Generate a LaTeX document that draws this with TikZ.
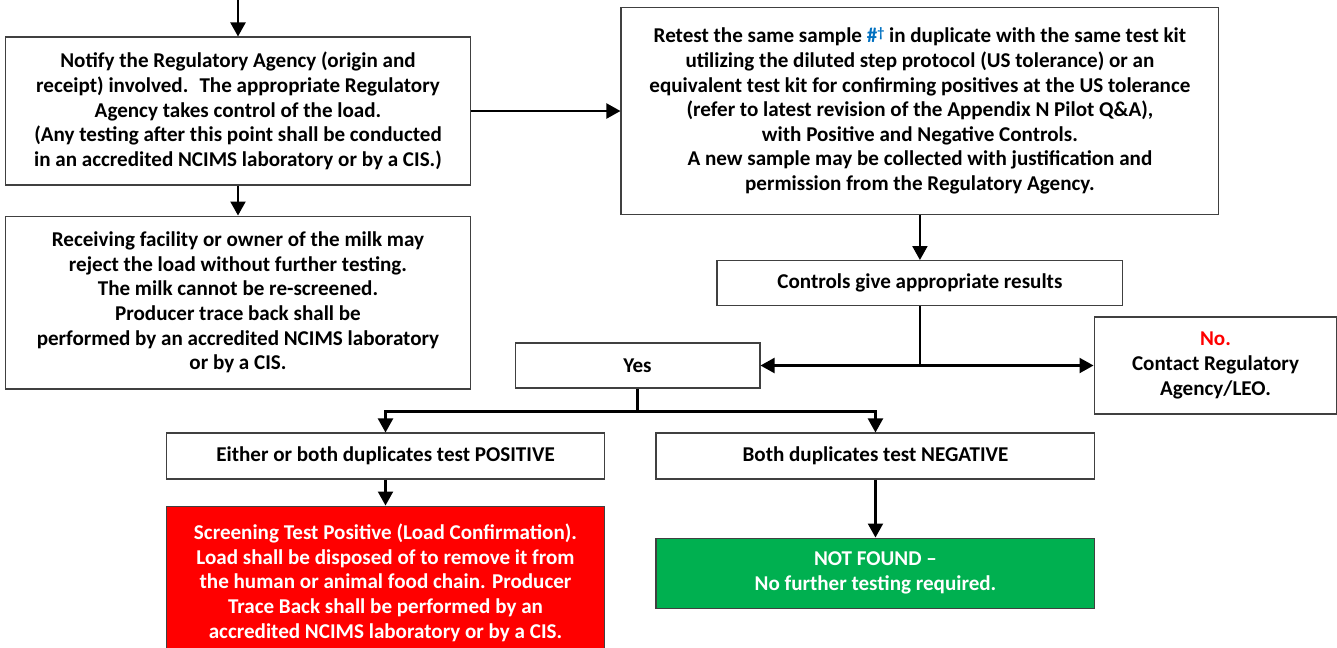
\documentclass[tikz,border=0pt]{standalone}
\usepackage{fontspec}
\setmainfont{Carlito}
\usetikzlibrary{positioning,arrows.meta}
\definecolor{boxgray}{RGB}{64,64,64}
\definecolor{hashblue}{RGB}{0,112,192}
\definecolor{stopred}{RGB}{255,0,0}
\definecolor{okgreen}{RGB}{0,176,80}

\begin{document}
\begin{tikzpicture}[x=0.02cm,y=-0.02cm,
    box/.style={draw=boxgray,line width=0.6pt,align=center,inner sep=0pt,
      font=\fontsize{12}{14}\selectfont\bfseries},
    flow/.style={line width=1.2pt,-{Triangle[length=0.28cm,width=0.3cm]}},
    link/.style={line width=1.2pt}]
  \useasboundingbox (0,0) rectangle (1337,647);
  %% left column
  \coordinate (start) at (238,0);
  \node[box,minimum width=9.32cm,minimum height=2.96cm] (notify) at (238,111)
    {Notify the Regulatory Agency (origin and\\
     receipt) involved.~ The appropriate Regulatory\\
     Agency takes control of the load.\\
     (Any testing after this point shall be conducted\\
     in an accredited NCIMS laboratory or by a CIS.)};
  \node[box,minimum width=9.32cm,minimum height=3.46cm,below=0.6cm of notify] (recv)
    {Receiving facility or owner of the milk may\\
     reject the load without further testing.\\
     The milk cannot be re-screened.\\
     Producer trace back shall be\\
     performed by an accredited NCIMS laboratory\\
     or by a CIS.};
  %% right column
  \node[box,minimum width=11.96cm,minimum height=4.14cm,right=2.98cm of notify] (retest)
    {Retest the same sample \textcolor{hashblue}{\#\raisebox{0.5ex}{\footnotesize\textdagger}} in duplicate with the same test kit\\
     utilizing the diluted step protocol (US tolerance) or an\\
     equivalent test kit for confirming positives at the US tolerance\\
     (refer to latest revision of the Appendix N Pilot Q\&A),\\
     with Positive and Negative Controls.\\
     A new sample may be collected with justification and\\
     permission from the Regulatory Agency.};
  \node[box,minimum width=8.12cm,minimum height=0.9cm,below=0.9cm of retest] (ctrl)
    {Controls give appropriate results};
  \node[box,minimum width=4.9cm,minimum height=0.9cm] (yes) at (637.5,365.5) {Yes};
  \node[box,minimum width=4.86cm,minimum height=1.94cm] (no) at (1215.5,365.5)
    {\textcolor{stopred}{No.}\\ Contact Regulatory\\ Agency/LEO.};
  %% outcomes
  \node[box,minimum width=8.78cm,minimum height=0.92cm] (either) at (385.5,456)
    {Either or both duplicates test POSITIVE};
  \node[box,minimum width=8.78cm,minimum height=0.92cm,right=1cm of either] (both)
    {Both duplicates test NEGATIVE};
  % red box runs past the bottom edge
  \node[box,fill=stopred,text=white,minimum width=8.78cm,minimum height=3.7cm,below=0.52cm of either] (red)
    {Screening Test Positive (Load Confirmation).\\
     Load shall be disposed of to remove it from\\
     the human or animal food chain. Producer\\
     Trace Back shall be performed by an\\
     accredited NCIMS laboratory or by a CIS.\rule[-0.7cm]{0pt}{0pt}};
  \node[box,fill=okgreen,text=white,minimum width=8.78cm,minimum height=1.4cm,below=1.16cm of both] (green)
    {NOT FOUND --\\ No further testing required.};
  % connectors
  \draw[flow] (start) -- (notify);
  \draw[flow] (notify) -- (recv);
  \draw[flow] (notify.east) -- (retest.west);
  \draw[flow] (retest) -- (ctrl);
  \coordinate (split) at (ctrl.south |- yes.east);
  \draw[link] (ctrl) -- (split);
  \draw[flow] (split) -- (yes);
  \draw[flow] (split) -- (no);
  \coordinate[below=0.46cm of yes] (fork);
  \draw[link] (yes) -- (fork);
  \draw[flow] (fork) -| (either);
  \draw[flow] (fork) -| (both);
  \draw[flow] (either) -- (red);
  \draw[flow] (both) -- (green);
\end{tikzpicture}
\end{document}
